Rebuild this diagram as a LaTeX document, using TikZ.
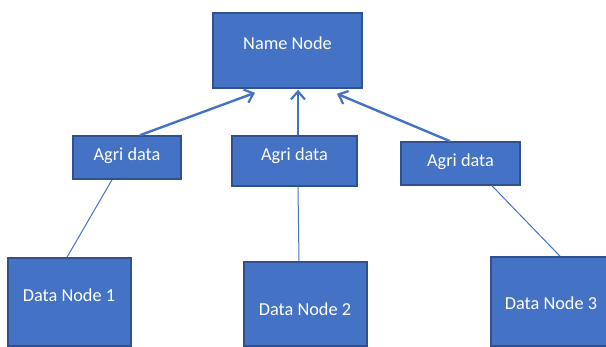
\documentclass[tikz,border=0pt]{standalone}
\usepackage{fontspec}
\setmainfont{Carlito}
\usetikzlibrary{arrows.meta}
\definecolor{boxfill}{HTML}{4472C4}
\definecolor{boxedge}{HTML}{2F528F}
\begin{document}
\begin{tikzpicture}[x=1pt,y=-1pt,
  box/.style={draw=boxedge,fill=boxfill,line width=1.6pt,inner sep=0pt},
  txt/.style={text=white,font=\fontsize{18.3}{22}\selectfont,inner sep=0pt},
  up/.style={draw=boxfill,line width=2.4pt,-{Straight Barb[length=8pt,width=14pt,line width=2.2pt]}},
  thin/.style={draw=boxfill,line width=1pt}]
\useasboundingbox (0,0) rectangle (606,347);
\clip (0,0) rectangle (606,347);
% boxes
\node[box,minimum width=149pt,minimum height=75pt] (nn) at (287.5,50.5) {};
\node[box,minimum width=108pt,minimum height=43pt] (a1) at (127,157.5) {};
\node[box,minimum width=125pt,minimum height=50pt] (a2) at (294.5,161) {};
\node[box,minimum width=119pt,minimum height=43pt] (a3) at (460.5,163.5) {};
\node[box,minimum width=123pt,minimum height=88pt] (d1) at (69.5,302) {};
\node[box,minimum width=123pt,minimum height=84pt] (d2) at (305.5,304) {};
\node[box,minimum width=118pt,minimum height=89pt] (d3) at (550,301.5) {};
% texts
\node[txt] (tnn) at (287.5,43) {Name Node};
\node[txt] (ta1) at (127,156) {Agri data};
\node[txt] (ta2) at (294.5,156) {Agri data};
\node[txt] (ta3) at (460.5,162) {Agri data};
\node[txt] (td1) at (69,295) {Data Node 1};
\node[txt] (td2) at (305,309) {Data Node 2};
\node[txt] (td3) at (551,303) {Data Node 3};
% arrows
\draw[up] ([xshift=13pt]a1.north) -- ([xshift=-32.5pt,yshift=-4pt]nn.south);
\draw[up] ([xshift=3.5pt]a2.north) -- ([xshift=10.5pt,yshift=-1pt]nn.south);
\draw[up] ([xshift=-10.5pt]a3.north) -- ([xshift=49.5pt,yshift=-5pt]nn.south);
% lines
\draw[thin] ([xshift=-15pt]a1.south) -- ([xshift=-2.5pt]d1.north);
\draw[thin] ([xshift=3.5pt]a2.south) -- ([xshift=-6.5pt]d2.north);
\draw[thin] ([xshift=31.5pt]a3.south) -- ([xshift=10pt]d3.north);
\end{tikzpicture}
\end{document}
